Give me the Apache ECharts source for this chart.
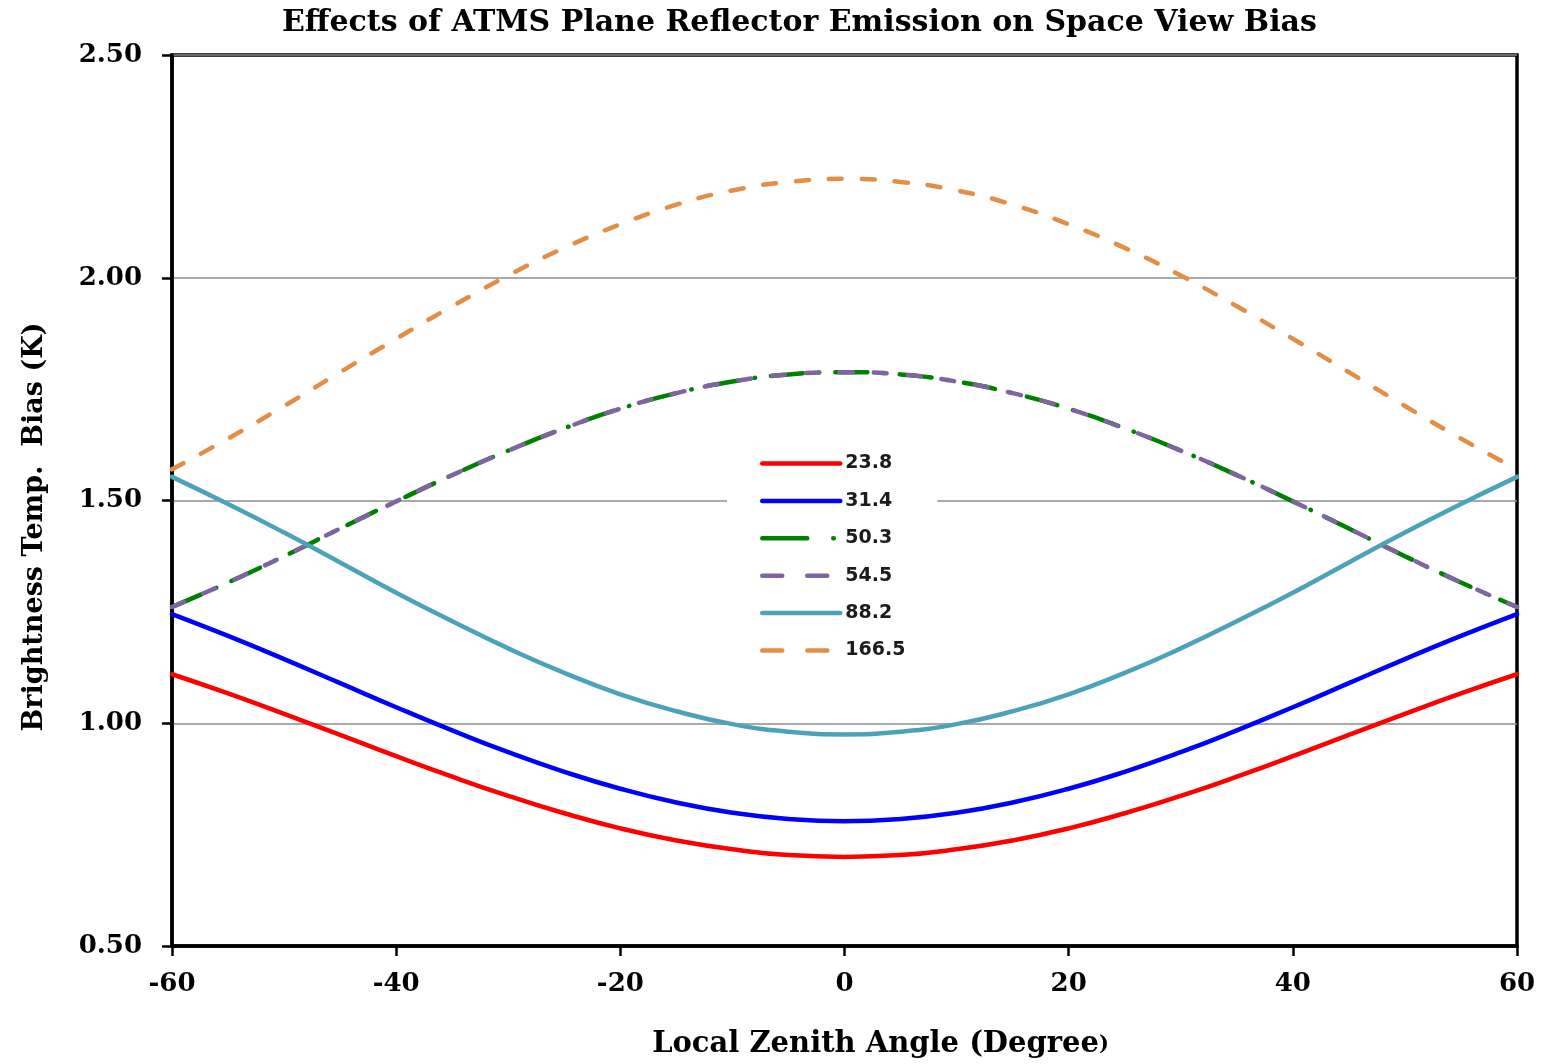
<!DOCTYPE html>
<html>
<head>
<meta charset="utf-8">
<title>ATMS Plane Reflector Emission</title>
<script src="https://cdn.jsdelivr.net/npm/echarts@6/dist/echarts.min.js"></script>
<style>
  html, body { margin: 0; padding: 0; background: #fff; }
  #chart { width: 1541px; height: 1064px; }
</style>
</head>
<body>
<div id="chart"></div>
<script>
// Local zenith angle (degrees), every 5 degrees across the scan
const angles = [-60, -55, -50, -45, -40, -35, -30, -25, -20, -15, -10, -5, 0,
                5, 10, 15, 20, 25, 30, 35, 40, 45, 50, 55, 60];

// Brightness temperature bias (K) per channel frequency (GHz)
const bias238 = [1.110, 1.067, 1.021, 0.974, 0.926, 0.880, 0.837, 0.798, 0.764, 0.737, 0.717, 0.704, 0.700,
                 0.704, 0.717, 0.737, 0.764, 0.798, 0.837, 0.880, 0.926, 0.974, 1.021, 1.067, 1.110];
const bias314 = [1.245, 1.196, 1.144, 1.090, 1.036, 0.984, 0.935, 0.891, 0.853, 0.822, 0.799, 0.785, 0.780,
                 0.785, 0.799, 0.822, 0.853, 0.891, 0.935, 0.984, 1.036, 1.090, 1.144, 1.196, 1.245];
const bias503 = [1.261, 1.316, 1.375, 1.437, 1.498, 1.557, 1.612, 1.662, 1.706, 1.741, 1.767, 1.783, 1.788,
                 1.783, 1.767, 1.741, 1.706, 1.662, 1.612, 1.557, 1.498, 1.437, 1.375, 1.316, 1.261];
const bias545 = [1.261, 1.316, 1.375, 1.437, 1.498, 1.557, 1.612, 1.662, 1.706, 1.741, 1.767, 1.783, 1.788,
                 1.783, 1.767, 1.741, 1.706, 1.662, 1.612, 1.557, 1.498, 1.437, 1.375, 1.316, 1.261];
const bias882 = [1.553, 1.492, 1.428, 1.361, 1.293, 1.229, 1.168, 1.113, 1.065, 1.027, 0.998, 0.981, 0.975,
                 0.981, 0.998, 1.027, 1.065, 1.113, 1.168, 1.229, 1.293, 1.361, 1.428, 1.492, 1.553];
const bias1665 = [1.570, 1.639, 1.712, 1.788, 1.863, 1.936, 2.005, 2.067, 2.120, 2.164, 2.196, 2.215, 2.222,
                  2.215, 2.196, 2.164, 2.120, 2.067, 2.005, 1.936, 1.863, 1.788, 1.712, 1.639, 1.570];

const channelNames = ['23.8', '31.4', '50.3', '54.5', '88.2', '166.5'];
const channelValues = [bias238, bias314, bias503, bias545, bias882, bias1665];

const titleText = 'Effects of ATMS Plane Reflector Emission on Space View Bias';
const xAxisName = 'Local Zenith Angle (Degree{p|)}';
const yAxisName = 'Brightness Temp.  Bias (K)';

const colors = ['#ff0000', '#0000ff', '#008000', '#7f64a2', '#4ba3ba', '#e38d45'];
const dashes = ['solid', 'solid', [32, 16, 0.5, 16], [13, 21], 'solid', [13, 20]];
const legendDashes = ['solid', 'solid', [45, 26, 0.5, 30], [20, 25], 'solid', [20, 25]];

const serif = '"DejaVu Serif", "Liberation Serif", serif';
const LW = 4.5;

const series = channelNames.map((name, i) => ({
  name: name,
  type: 'line',
  smooth: true,
  symbol: 'none',
  data: angles.map((a, k) => [a, channelValues[i][k]]),
  lineStyle: { color: colors[i], width: LW, type: dashes[i], cap: 'round' },
  itemStyle: { color: colors[i] },
  z: 2 + i
}));

const chart = echarts.init(document.getElementById('chart'), null, { renderer: 'canvas' });
chart.setOption({
  animation: false,
  backgroundColor: '#ffffff',
  title: {
    text: titleText,
    left: 277,
    top: 3,
    textStyle: { fontFamily: serif, fontWeight: 'bold', fontSize: 30, color: '#000' }
  },
  grid: {
    left: 172, right: 24, top: 55, bottom: 116,
    show: true, borderColor: '#000', borderWidth: 3.5, backgroundColor: 'transparent'
  },
  legend: {
    orient: 'vertical',
    left: 727,
    top: 441.5,
    padding: [12, 32, 12, 33],
    backgroundColor: '#ffffff',
    itemWidth: 78,
    itemHeight: 20,
    itemGap: 17.4,
    itemStyle: { opacity: 0 },
    lineStyle: { width: LW },
    textStyle: { fontFamily: '"DejaVu Sans", sans-serif', fontWeight: 'bold', fontSize: 19, color: '#1c1c1c', lineHeight: 20 },
    data: channelNames.map((name, i) => ({
      name: name,
      lineStyle: { color: colors[i], width: LW, type: legendDashes[i], cap: 'round' }
    }))
  },
  xAxis: {
    type: 'value',
    min: -60, max: 60, interval: 20,
    name: xAxisName,
    nameLocation: 'middle',
    nameGap: 84,
    nameTextStyle: {
      fontFamily: serif, fontWeight: 'bold', fontSize: 29, color: '#000',
      padding: [0, 0, 0, 72],
      rich: { p: { fontFamily: serif, fontWeight: 'bold', fontSize: 21, color: '#000' } }
    },
    axisLine: { show: true, onZero: false, lineStyle: { color: '#000', width: 3.5 } },
    axisTick: { show: true, inside: false, length: 10, lineStyle: { color: '#000', width: 2.5 } },
    axisLabel: { margin: 25, fontFamily: serif, fontWeight: 'bold', fontSize: 26, color: '#000' },
    splitLine: { show: false }
  },
  yAxis: {
    type: 'value',
    min: 0.5, max: 2.5, interval: 0.5,
    name: yAxisName,
    nameLocation: 'middle',
    nameRotate: 90,
    nameGap: 124,
    nameTextStyle: {
      fontFamily: serif, fontWeight: 'bold', fontSize: 27, color: '#000',
      padding: [0, 53, 0, 0]
    },
    axisLine: { show: true, onZero: false, lineStyle: { color: '#000', width: 3.5 } },
    axisTick: { show: true, inside: false, length: 10, lineStyle: { color: '#000', width: 2.5 } },
    axisLabel: {
      margin: 30, fontFamily: serif, fontWeight: 'bold', fontSize: 26, color: '#000',
      formatter: v => v.toFixed(2)
    },
    splitLine: { show: true, lineStyle: { color: '#8c8c8c', width: 1.5 } }
  },
  series: series
});
</script>
</body>
</html>
